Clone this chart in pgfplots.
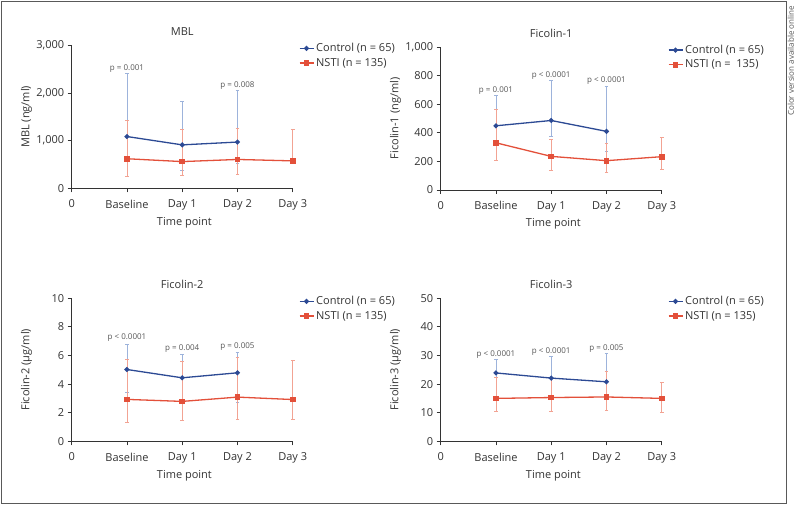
\documentclass[border=0pt]{standalone}
\usepackage{fontspec}
\setmainfont{Open Sans}
\usepackage{pgfplots}
\usepackage{pgfplotstable}
\pgfplotsset{compat=1.18}
\definecolor{cblue}{HTML}{2C4A94}
\definecolor{cred}{HTML}{E3503A}
\definecolor{ebblue}{HTML}{9DB3DB}
\definecolor{ebred}{HTML}{F2A393}
\definecolor{axgray}{HTML}{333333}
\definecolor{txtgray}{HTML}{333333}
\definecolor{pgray}{HTML}{555555}

\pgfplotstableread{
x y ep em
1 1086 1320 466
2 911 906 526
3 970 1078 444
}\mblC
\pgfplotstableread{
x y ep em
1 620 812 375
2 560 682 287
3 605 643 304
4 575 652 0
}\mblN
\pgfplotstableread{
x y ep em
1 449 211 119
2 486 277 111
3 410 316 140
}\fcoA
\pgfplotstableread{
x y ep em
1 330 233 125
2 235 119 98
3 205 121 79
4 233 135 86
}\fcoB
\pgfplotstableread{
x y ep em
1 5.02 1.79 1.63
2 4.44 1.65 1.64
3 4.79 1.44 2.05
}\fctA
\pgfplotstableread{
x y ep em
1 2.93 2.79 1.58
2 2.79 2.81 1.32
3 3.09 2.81 1.58
4 2.92 2.73 1.40
}\fctB
\pgfplotstableread{
x y ep em
1 23.9 4.8 8.7
2 22.1 7.7 6.8
3 20.8 9.9 5.3
}\fchA
\pgfplotstableread{
x y ep em
1 15.0 7.5 4.7
2 15.3 6.7 5.0
3 15.5 8.8 4.8
4 15.0 5.5 5.0
}\fchB

\newcommand{\lfont}{\fontsize{11bp}{13bp}\selectfont}
\newcommand{\pfont}{\fontsize{8bp}{9bp}\selectfont}

\pgfplotsset{
  panel/.style={
    anchor=south west, scale only axis, width=221bp, height=143bp,
    axis lines=left, axis line style={-, draw=axgray, line width=0.9bp},
    xmin=0, xmax=4, ymin=0,
    xtick={0,1,2,3,4}, xticklabels={0,Baseline,Day 1,Day 2,Day 3},
    tick align=outside, major tick length=4bp,
    tick style={draw=axgray, line width=0.9bp},
    tick label style={font=\lfont, text=txtgray},
    xticklabel style={yshift=-4bp},
    label style={font=\lfont, text=txtgray},
    title style={font=\lfont, text=txtgray, at={(axis description cs:0.5,1)}, anchor=center, yshift=8bp},
    /pgf/number format/assume math mode=true,
    /pgf/number format/1000 sep={,},
    scaled y ticks=false,
    clip=false,
    xlabel={Time point},
    xlabel style={at={(axis description cs:0.51,0)}, anchor=center, yshift=-34bp},
    ylabel style={at={(axis description cs:-0.205,0.5)}, anchor=center},
    legend style={draw=none, fill=none, at={(1,1)}, anchor=north west,
      xshift=3bp, yshift=6bp, font=\lfont, text=txtgray, row sep=1bp},
    legend cell align=left,
    legend image code/.code={\draw[mark repeat=2,mark phase=2,##1] plot coordinates {(0bp,0bp) (7bp,0bp) (14bp,0bp)};},
  },
  ebB/.style={forget plot, draw=none, mark=none,
    error bars/.cd, y dir=both, y explicit,
    error bar style={draw=ebblue, line width=0.8bp},
    error mark options={rotate=90, draw=ebblue, mark size=1.8bp, line width=0.8bp}},
  ebR/.style={forget plot, draw=none, mark=none,
    error bars/.cd, y dir=both, y explicit,
    error bar style={draw=ebred, line width=0.8bp},
    error mark options={rotate=90, draw=ebred, mark size=1.8bp, line width=0.8bp}},
  lnB/.style={draw=cblue, line width=1.3bp, mark=*, mark size=1.8bp, mark options={fill=cblue, draw=cblue, solid}},
  lnR/.style={draw=cred, line width=1.3bp, mark=square*, mark size=2.2bp, mark options={fill=cred, draw=cred, solid}},
}

\begin{document}
\begin{tikzpicture}[x=1bp,y=1bp]
\useasboundingbox (0,0) rectangle (796,505);
\draw[draw=black!65, line width=0.8bp] (1.7,503.5) rectangle (786,1.5);
\node[rotate=90, font=\fontsize{8bp}{9bp}\selectfont, text=pgray, inner sep=0pt] at (790.8,444) {Color version available online};

% MBL
\begin{axis}[panel, at={(71.7bp,316.7bp)}, ymax=3000, ytick={0,1000,2000,3000},
  title={MBL}, ylabel={MBL (ng/ml)}]
\addplot[ebB] table[x=x,y=y,y error plus=ep,y error minus=em] {\mblC};
\addplot[ebR] table[x=x,y=y,y error plus=ep,y error minus=em] {\mblN};
\addplot[lnB] table[x=x,y=y] {\mblC};
\addplot[lnR] table[x=x,y=y] {\mblN};
\legend{Control (n = 65), NSTI (n = 135)}
\node[font=\pfont, text=pgray] at (axis cs:1,2406) [yshift=5.5bp] {p = 0.001};
\node[font=\pfont, text=pgray] at (axis cs:3,2048) [yshift=5.5bp] {p = 0.008};
\end{axis}

% Ficolin-1
\begin{axis}[panel, at={(440.7bp,315bp)}, ymax=1000, ytick={0,200,...,1000},
  title={Ficolin-1}, ylabel={Ficolin-1 (ng/ml)}]
\addplot[ebB] table[x=x,y=y,y error plus=ep,y error minus=em] {\fcoA};
\addplot[ebR] table[x=x,y=y,y error plus=ep,y error minus=em] {\fcoB};
\addplot[lnB] table[x=x,y=y] {\fcoA};
\addplot[lnR] table[x=x,y=y] {\fcoB};
\legend{Control (n = 65), NSTI (n = \ 135)}
\node[font=\pfont, text=pgray] at (axis cs:1,660) [yshift=5.5bp] {p = 0.001};
\node[font=\pfont, text=pgray] at (axis cs:2,763) [yshift=5.5bp] {p < 0.0001};
\node[font=\pfont, text=pgray] at (axis cs:3,726) [yshift=5.5bp] {p < 0.0001};
\end{axis}

% Ficolin-2
\begin{axis}[panel, at={(71.7bp,63.7bp)}, ymax=10, ytick={0,2,...,10},
  title={Ficolin-2}, ylabel={Ficolin-2 (µg/ml)}]
\addplot[ebB] table[x=x,y=y,y error plus=ep,y error minus=em] {\fctA};
\addplot[ebR] table[x=x,y=y,y error plus=ep,y error minus=em] {\fctB};
\addplot[lnB] table[x=x,y=y] {\fctA};
\addplot[lnR] table[x=x,y=y] {\fctB};
\legend{Control (n = 65), NSTI (n = 135)}
\node[font=\pfont, text=pgray] at (axis cs:1,6.81) [yshift=6bp] {p < 0.0001};
\node[font=\pfont, text=pgray] at (axis cs:2,6.09) [yshift=6bp] {p = 0.004};
\node[font=\pfont, text=pgray] at (axis cs:3,6.23) [yshift=6bp] {p = 0.005};
\end{axis}

% Ficolin-3
\begin{axis}[panel, at={(440.7bp,63.7bp)}, ymax=50, ytick={0,10,...,50},
  title={Ficolin-3}, ylabel={Ficolin-3 (µg/ml)}]
\addplot[ebB] table[x=x,y=y,y error plus=ep,y error minus=em] {\fchA};
\addplot[ebR] table[x=x,y=y,y error plus=ep,y error minus=em] {\fchB};
\addplot[lnB] table[x=x,y=y] {\fchA};
\addplot[lnR] table[x=x,y=y] {\fchB};
\legend{Control (n = 65), NSTI (n = 135)}
\node[font=\pfont, text=pgray] at (axis cs:1,28.7) [yshift=5bp] {p < 0.0001};
\node[font=\pfont, text=pgray] at (axis cs:2,29.8) [yshift=5bp] {p < 0.0001};
\node[font=\pfont, text=pgray] at (axis cs:3,30.7) [yshift=5bp] {p = 0.005};
\end{axis}
\end{tikzpicture}
\end{document}
